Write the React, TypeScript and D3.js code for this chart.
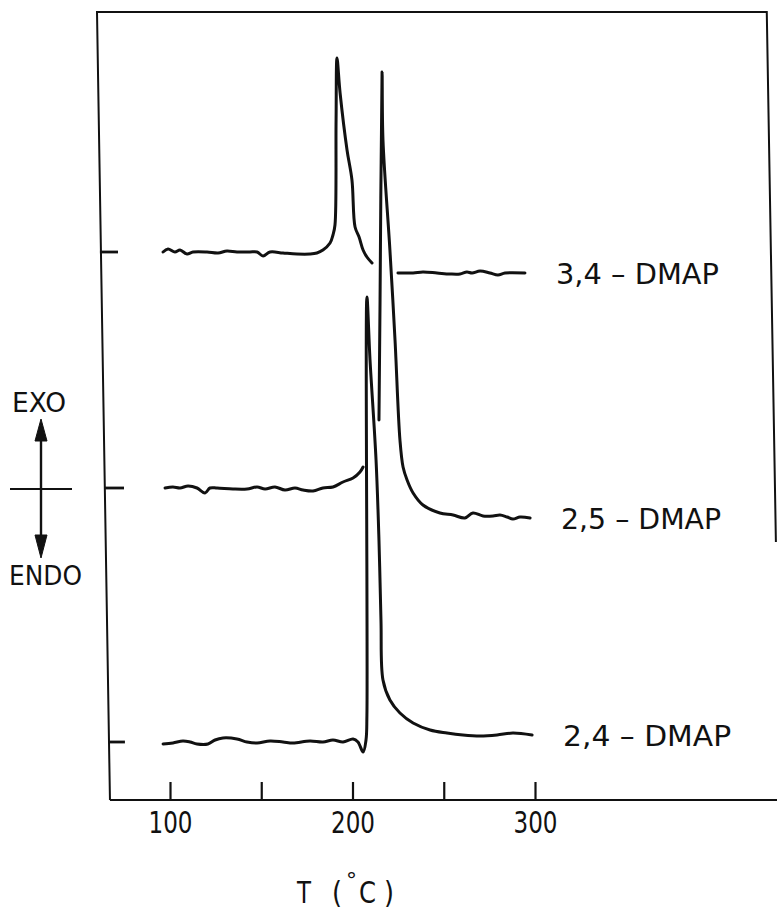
import React, { useEffect, useRef } from "react";
import * as d3 from "d3";

// DSC traces: [T (°C), heat flow (arb. units)]
// NaN marks a break in the pen trace
const dmap34: [number, number][] = [
  [96.2, 54.8], [98.9, 55.1], [102.7, 54.8], [105.5, 55.0], [109.3, 54.6],
  [112.6, 54.8], [120.3, 54.8], [126.3, 54.7], [131.2, 54.9], [136.7, 54.8],
  [143.8, 54.8], [147.7, 54.8], [151.0, 54.4], [154.8, 54.8], [161.9, 54.7],
  [169.6, 54.6], [176.7, 54.6], [180.5, 54.7], [183.8, 55.0], [187.7, 55.7],
  [189.3, 56.5], [190.4, 57.5], [191.0, 68.0], [191.5, 74.2], [193.2, 70.7],
  [197.0, 65.0], [199.7, 62.0], [201.4, 57.3], [203.6, 56.3], [205.8, 55.0],
  [207.9, 54.3], [210.7, 53.7], [NaN, NaN], [224.9, 52.7], [233.2, 52.7],
  [238.6, 52.8], [246.3, 52.7], [253.4, 52.6], [258.9, 52.6], [262.7, 52.8],
  [265.5, 52.7], [269.9, 52.9], [275.3, 52.7], [279.7, 52.5], [283.6, 52.7],
  [294.5, 52.7],
];

const dmap25: [number, number][] = [
  [97.3, 31.2], [101.6, 31.3], [105.5, 31.2], [109.9, 31.4], [114.8, 31.2],
  [119.2, 30.7], [121.9, 31.2], [125.8, 31.2], [134.5, 31.1], [142.2, 31.1],
  [147.7, 31.3], [152.1, 31.1], [157.5, 31.3], [163.0, 31.0], [168.5, 31.2],
  [172.9, 31.0], [178.4, 30.9], [183.8, 31.2], [189.3, 31.3], [194.8, 31.8],
  [200.3, 32.2], [204.1, 32.8], [205.8, 33.3], [NaN, NaN], [214.5, 38.0],
  [215.1, 50.0], [216.2, 72.8], [216.7, 66.0], [220.5, 55.0], [223.3, 46.0],
  [226.0, 36.0], [227.7, 33.3], [229.9, 32.0], [233.2, 30.7], [238.6, 29.5],
  [247.9, 28.7], [255.1, 28.5], [261.6, 28.2], [266.0, 28.7], [271.5, 28.4],
  [277.0, 28.4], [280.8, 28.5], [284.7, 28.3], [287.9, 28.1], [291.8, 28.3],
  [297.3, 28.2],
];

const dmap24: [number, number][] = [
  [96.2, 5.6], [101.6, 5.7], [107.1, 5.9], [111.0, 5.8], [114.8, 5.6],
  [120.8, 5.6], [124.7, 6.0], [129.0, 6.2], [136.7, 6.1], [142.2, 5.8],
  [147.7, 5.7], [154.8, 5.9], [161.9, 5.8], [167.4, 5.7], [176.7, 5.9],
  [183.8, 5.8], [189.3, 6.0], [194.8, 5.8], [200.3, 6.1], [203.0, 5.8],
  [205.8, 4.8], [207.4, 6.0], [207.9, 8.5], [207.9, 50.3], [209.6, 44.0],
  [212.9, 34.0], [214.5, 26.0], [215.6, 18.0], [216.7, 12.0], [220.5, 10.0],
  [226.0, 8.7], [233.2, 7.7], [242.5, 7.0], [251.8, 6.7], [260.5, 6.5],
  [269.9, 6.4], [279.2, 6.5], [287.9, 6.7], [298.4, 6.5],
];

const seriesNames = ["3,4 – DMAP", "2,5 – DMAP", "2,4 – DMAP"];
const labelWidths = [163, 160, 168];

// zero marks at the left axis: [T start, T end, level]
const zeroMarks: [number, number, number][] = [
  [61.6, 71.5, 54.8],
  [64.4, 74.8, 31.2],
  [67.1, 75.3, 5.8],
];

const tickValues = [100, 150, 200, 250, 300];
const tickLabels = ["100", "", "200", "", "300"];

const W = 777;
const H = 909;
const INK = "#111";
const FONT = "DejaVu Sans, sans-serif";

const App = () => {
  const svgRef = useRef<SVGSVGElement>(null);

  useEffect(() => {
    const svg = d3.select(svgRef.current);
    svg.selectAll("*").remove();

    const x = d3.scaleLinear().domain([100, 300]).range([170, 535]);
    const y = d3.scaleLinear().domain([0, 80]).range([800, 0]);

    // frame (the scanned frame is slightly skewed)
    svg
      .append("path")
      .attr(
        "d",
        `M${x(67.1)},${y(0)} L${x(60)},${y(78.8)} L${x(427)},${y(78.8)} L${x(432)},${y(25.8)}` +
          ` M${x(67.1)},${y(0)} L${W},${y(0)}`
      )
      .attr("fill", "none")
      .attr("stroke", INK)
      .attr("stroke-width", 2);

    // x axis, ticks pointing up
    const axis = d3
      .axisBottom(x)
      .tickValues(tickValues)
      .tickSizeInner(-18)
      .tickSizeOuter(0)
      .tickPadding(11)
      .tickFormat((d, i) => tickLabels[i]);

    const gx = svg
      .append("g")
      .attr("transform", `translate(0,${y(0)})`)
      .call(axis)
      .attr("font-size", 31)
      .attr("font-family", FONT);
    gx.select(".domain").remove();
    gx.selectAll(".tick line").attr("stroke", INK).attr("stroke-width", 2.2);
    gx.selectAll(".tick text")
      .attr("fill", INK)
      .filter((d, i) => tickLabels[i] !== "")
      .attr("textLength", 44)
      .attr("lengthAdjust", "spacingAndGlyphs");

    // axis title
    const title = svg
      .append("g")
      .attr("font-family", FONT)
      .attr("fill", INK);
    title.append("text").attr("x", 297).attr("y", 903).attr("font-size", 30)
      .attr("textLength", 14).attr("lengthAdjust", "spacingAndGlyphs").text("T");
    title.append("text").attr("x", 332).attr("y", 903).attr("font-size", 30)
      .attr("textLength", 10).attr("lengthAdjust", "spacingAndGlyphs").text("(");
    title.append("text").attr("x", 346).attr("y", 888).attr("font-size", 22).text("°");
    title.append("text").attr("x", 359).attr("y", 903).attr("font-size", 30)
      .attr("textLength", 17).attr("lengthAdjust", "spacingAndGlyphs").text("C");
    title.append("text").attr("x", 384).attr("y", 903).attr("font-size", 30)
      .attr("textLength", 10).attr("lengthAdjust", "spacingAndGlyphs").text(")");

    // zero marks
    svg
      .append("g")
      .selectAll("line")
      .data(zeroMarks)
      .enter()
      .append("line")
      .attr("x1", (d) => x(d[0]))
      .attr("x2", (d) => x(d[1]))
      .attr("y1", (d) => y(d[2]))
      .attr("y2", (d) => y(d[2]))
      .attr("stroke", INK)
      .attr("stroke-width", 2.8);

    // traces
    const line = d3
      .line<[number, number]>()
      .defined((d) => !isNaN(d[1]))
      .x((d) => x(d[0]))
      .y((d) => y(d[1]))
      .curve(d3.curveCatmullRom.alpha(0.5));

    const series = [dmap34, dmap25, dmap24];
    svg
      .append("g")
      .selectAll("path")
      .data(series)
      .enter()
      .append("path")
      .attr("d", (d) => line(d))
      .attr("fill", "none")
      .attr("stroke", INK)
      .attr("stroke-width", 3)
      .attr("stroke-linejoin", "round")
      .attr("stroke-linecap", "round");

    // curve labels next to the end of each trace
    svg
      .append("g")
      .selectAll("text")
      .data(series)
      .enter()
      .append("text")
      .attr("x", (d) => x(d[d.length - 1][0]) + 31)
      .attr("y", (d) => y(d[d.length - 1][1]) + 11)
      .attr("font-size", 29)
      .attr("font-family", FONT)
      .attr("fill", INK)
      .attr("textLength", (d, i) => labelWidths[i])
      .attr("lengthAdjust", "spacingAndGlyphs")
      .text((d, i) => seriesNames[i]);

    // EXO / ENDO direction marker
    const dir = svg.append("g").attr("fill", INK).attr("stroke", INK);
    dir.append("line").attr("x1", 10).attr("x2", 72).attr("y1", 489).attr("y2", 489)
      .attr("stroke-width", 2);
    dir.append("line").attr("x1", 41).attr("x2", 41).attr("y1", 430).attr("y2", 548)
      .attr("stroke-width", 2.4);
    dir.append("path").attr("d", "M41,419 L35,441 L47,441 Z").attr("stroke-width", 1);
    dir.append("path").attr("d", "M41,558 L35,535 L47,535 Z").attr("stroke-width", 1);
    dir.append("text").attr("x", 12).attr("y", 412).attr("font-size", 27)
      .attr("font-family", FONT).attr("stroke", "none")
      .attr("textLength", 54).attr("lengthAdjust", "spacingAndGlyphs").text("EXO");
    dir.append("text").attr("x", 9).attr("y", 585).attr("font-size", 27)
      .attr("font-family", FONT).attr("stroke", "none")
      .attr("textLength", 73).attr("lengthAdjust", "spacingAndGlyphs").text("ENDO");
  }, []);

  return (
    <svg
      ref={svgRef}
      width={W}
      height={H}
      style={{ position: "absolute", left: 0, top: 0, background: "#fff" }}
    ></svg>
  );
};

export default App;
